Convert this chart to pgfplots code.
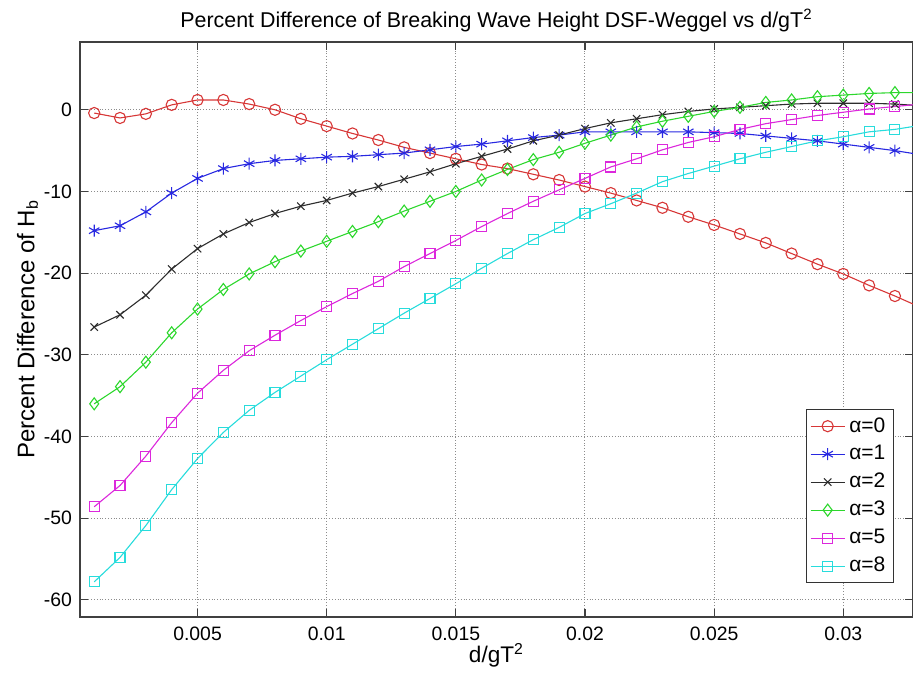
\documentclass[border=0pt]{standalone}
\usepackage{fontspec}
\setmainfont{Liberation Sans}
\usepackage{pgfplots}
\usepackage{pgfplotstable}
\pgfplotsset{compat=1.18}

\definecolor{cRed}{RGB}{215,55,55}
\definecolor{cBlue}{RGB}{40,40,225}
\definecolor{cBlack}{RGB}{45,45,45}
\definecolor{cGreen}{RGB}{45,215,45}
\definecolor{cMagenta}{RGB}{220,40,220}
\definecolor{cCyan}{RGB}{40,220,220}

% Percent difference of breaking wave height, DSF vs Weggel, per beach slope alpha
\pgfplotstableread{
x      a0     a1     a2     a3     a5     a8
0.001  -0.4  -14.8  -26.6  -36.0  -48.6  -57.8
0.002  -1.0  -14.2  -25.1  -33.9  -46.0  -54.8
0.003  -0.5  -12.5  -22.7  -30.9  -42.4  -50.9
0.004   0.6  -10.2  -19.5  -27.3  -38.3  -46.5
0.005   1.2   -8.4  -17.0  -24.4  -34.7  -42.7
0.006   1.2   -7.2  -15.2  -22.0  -31.9  -39.5
0.007   0.7   -6.6  -13.8  -20.1  -29.5  -36.8
0.008   0.0   -6.2  -12.7  -18.6  -27.6  -34.6
0.009  -1.1   -6.0  -11.8  -17.3  -25.8  -32.6
0.010  -2.0   -5.8  -11.1  -16.1  -24.1  -30.6
0.011  -2.9   -5.7  -10.2  -14.9  -22.5  -28.7
0.012  -3.7   -5.5   -9.4  -13.7  -21.0  -26.8
0.013  -4.6   -5.3   -8.5  -12.4  -19.2  -24.9
0.014  -5.3   -4.9   -7.6  -11.2  -17.6  -23.1
0.015  -6.0   -4.5   -6.6  -10.0  -16.0  -21.3
0.016  -6.7   -4.2   -5.7   -8.6  -14.3  -19.4
0.017  -7.2   -3.8   -4.8   -7.3  -12.7  -17.6
0.018  -7.9   -3.4   -3.8   -6.1  -11.2  -15.9
0.019  -8.6   -3.1   -3.1   -5.2   -9.8  -14.4
0.020  -9.4   -2.7   -2.3   -4.1   -8.4  -12.7
0.021 -10.2   -2.7   -1.6   -3.1   -7.0  -11.5
0.022 -11.1   -2.7   -1.1   -2.1   -6.0  -10.2
0.023 -12.0   -2.7   -0.6   -1.4   -4.9   -8.8
0.024 -13.1   -2.7   -0.2   -0.8   -4.0   -7.8
0.025 -14.1   -2.8    0.1   -0.2   -3.3   -6.9
0.026 -15.2   -2.9    0.3    0.3   -2.4   -6.0
0.027 -16.3   -3.2    0.5    0.9   -1.7   -5.2
0.028 -17.6   -3.5    0.7    1.2   -1.2   -4.5
0.029 -18.9   -3.8    0.8    1.6   -0.7   -3.8
0.030 -20.1   -4.2    0.8    1.8   -0.3   -3.3
0.031 -21.5   -4.6    0.8    2.0    0.1   -2.7
0.032 -22.8   -5.0    0.7    2.1    0.4   -2.4
0.033 -24.2   -5.5    0.5    2.1    0.7   -1.9
}\hbtable

\begin{document}
\begin{tikzpicture}
\useasboundingbox (-40pt,-32pt) rectangle (416.5pt,308.5pt);
\begin{axis}[
  scale only axis,
  width=416.5pt, height=287.5pt,
  xmin=0.00045, xmax=0.0327,
  ymin=-62.1, ymax=8.3,
  scaled x ticks=false, scaled y ticks=false,
  xtick={0.005,0.01,0.015,0.02,0.025,0.03},
  xticklabels={0.005,0.01,0.015,0.02,0.025,0.03},
  ytick={-60,-50,-40,-30,-20,-10,0},
  yticklabels={-60,-50,-40,-30,-20,-10,0},
  grid=major,
  major grid style={densely dotted, black!45, line width=0.5pt},
  axis line style={black!75, line width=0.6pt},
  tick style={black!75, line width=0.6pt},
  major tick length=4pt,
  tick align=inside,
  ticklabel style={font=\fontsize{9.7}{11}\selectfont},
  xticklabel style={yshift=-1.5pt},
  yticklabel style={xshift=-0.5pt},
  every axis title shift=0pt,
  title={Percent Difference of Breaking Wave Height DSF-Weggel vs d/gT\textsuperscript{2}},
  title style={font=\fontsize{10.7}{12}\selectfont, at={(axis description cs:0.5,1.026)}, anchor=base},
  xlabel={d/gT\textsuperscript{2}},
  xlabel style={font=\fontsize{11.3}{13}\selectfont, at={(axis description cs:0.5,-0.066)}, anchor=center},
  ylabel={Percent Difference of H\textsubscript{b}},
  ylabel style={font=\fontsize{12}{14}\selectfont, at={(axis description cs:-0.063,0.5)}, anchor=center, rotate=0},
  legend style={at={(rel axis cs:0.871,0.362)}, anchor=north west,
    font=\fontsize{10.5}{12}\selectfont, draw=black!80, line width=0.5pt,
    inner xsep=2pt, inner ysep=2pt, row sep=1.2pt},
  legend cell align=left,
  every axis plot/.append style={line width=0.55pt},
]
\addplot[cRed, mark=o, mark size=2.8pt] table[x=x, y=a0] {\hbtable};
\addplot[cBlue, mark=asterisk, mark size=3pt] table[x=x, y=a1] {\hbtable};
\addplot[cBlack, mark=x, mark size=2.6pt] table[x=x, y=a2] {\hbtable};
\addplot[cGreen, mark=diamond, mark size=3pt] table[x=x, y=a3] {\hbtable};
\addplot[cMagenta, mark=square, mark size=2.5pt] table[x=x, y=a5] {\hbtable};
\addplot[cCyan, mark=square, mark size=2.5pt] table[x=x, y=a8] {\hbtable};
\legend{α=0, α=1, α=2, α=3, α=5, α=8}
\end{axis}
\end{tikzpicture}
\end{document}
